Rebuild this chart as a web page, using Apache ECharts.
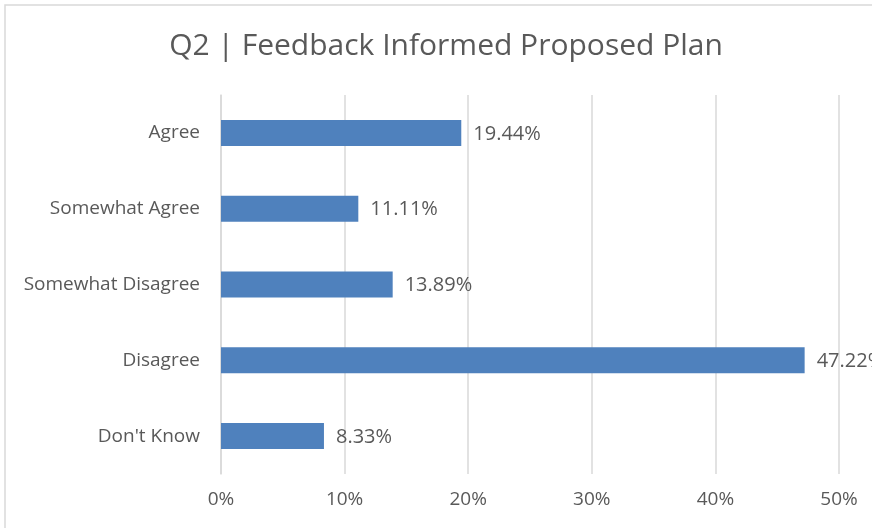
<!DOCTYPE html>
<html>
<head>
<meta charset="utf-8">
<script src="https://cdn.jsdelivr.net/npm/echarts@6/dist/echarts.min.js"></script>
<style>
  html, body { margin: 0; padding: 0; background: #fff; }
  #chart { width: 872px; height: 528px; }
</style>
</head>
<body>
<div id="chart"></div>
<script>
// survey answers, top to bottom as shown
const categories = ['Agree', 'Somewhat Agree', 'Somewhat Disagree', 'Disagree', "Don't Know"];
const shares = [19.44, 11.11, 13.89, 47.22, 8.33];
const tickValues = [0, 10, 20, 30, 40, 50];

const textColor = '#595959';
const fontFamily = '"Open Sans", "Noto Sans", sans-serif';

let myChart = echarts.init(document.getElementById('chart'));

let option = {
    animation: false,
    textStyle: { fontFamily: fontFamily },
    title: {
        text: 'Q2 | Feedback Informed Proposed Plan',
        left: 441,
        top: 26,
        textAlign: 'center',
        textStyle: { fontSize: 30, fontWeight: 'normal', color: textColor, fontFamily: fontFamily }
    },
    graphic: [{
        type: 'rect',
        shape: { x: 5, y: 5, width: 900, height: 600 },
        style: { fill: 'none', stroke: '#d9d9d9', lineWidth: 1.5 },
        silent: true
    }],
    grid: { left: 221, right: 33, top: 95, bottom: 54, containLabel: false },
    xAxis: {
        type: 'value',
        min: tickValues[0],
        max: tickValues[tickValues.length - 1],
        interval: 10,
        axisLine: { show: false },
        axisTick: { show: false },
        axisLabel: {
            formatter: v => v + '%',
            color: textColor,
            fontSize: 19,
            margin: 16
        },
        splitLine: { lineStyle: { color: '#d9d9d9', width: 1.5 } }
    },
    yAxis: {
        type: 'category',
        data: categories,
        inverse: true,
        axisLine: { show: true, lineStyle: { color: '#d9d9d9', width: 1.5 } },
        axisTick: { show: false },
        axisLabel: { color: textColor, fontSize: 19, margin: 21 }
    },
    series: [{
        type: 'bar',
        data: shares,
        barWidth: 26,
        itemStyle: { color: '#4f81bd' },
        label: {
            show: true,
            position: 'right',
            distance: 12,
            offset: [0, 1],
            color: textColor,
            fontSize: 20,
            formatter: p => p.value.toFixed(2) + '%'
        }
    }]
};

myChart.setOption(option);
</script>
</body>
</html>
